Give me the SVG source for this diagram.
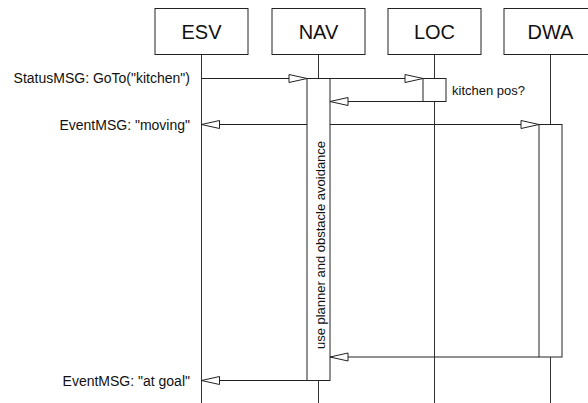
<svg xmlns="http://www.w3.org/2000/svg" width="588" height="403" viewBox="0 0 588 403">
<style>
.box{fill:#fff;stroke:#222;stroke-width:1}
.life{stroke:#333;stroke-width:1;fill:none}
.act{fill:#fff;stroke:#222;stroke-width:1}
.msg{stroke:#222;stroke-width:1;fill:none;marker-end:url(#ah)}
.name{font-family:"Liberation Sans",Arial,sans-serif;font-size:20px;fill:#111;text-anchor:middle}
.lbl{font-family:"Liberation Sans",Arial,sans-serif;font-size:14px;fill:#111}
.sm{font-size:13px}
</style>
<defs>
<marker id="ah" markerUnits="userSpaceOnUse" markerWidth="22" markerHeight="12" refX="19" refY="5" orient="auto" viewBox="0 0 22 12">
<path d="M1,1 L19,5 L1,9 Z" fill="#fff" stroke="#222" stroke-width="1"/>
</marker>
</defs>
<g id="lifelines">
<line class="life" x1="201.5" y1="54.5" x2="201.5" y2="403"/>
<line class="life" x1="318.5" y1="54.5" x2="318.5" y2="403"/>
<line class="life" x1="434.5" y1="54.5" x2="434.5" y2="403"/>
<line class="life" x1="550.5" y1="54.5" x2="550.5" y2="403"/>
</g>
<g id="ESV"><rect class="box" x="155" y="8.5" width="93" height="46"/><text class="name" x="201.5" y="39">ESV</text></g>
<g id="NAV"><rect class="box" x="272" y="8.5" width="93" height="46"/><text class="name" x="318.5" y="39">NAV</text></g>
<g id="LOC"><rect class="box" x="388" y="8.5" width="93" height="46"/><text class="name" x="434.5" y="39">LOC</text></g>
<g id="DWA"><rect class="box" x="504" y="8.5" width="93" height="46"/><text class="name" x="550.5" y="39">DWA</text></g>
<g id="NAV-activation">
<rect class="act" x="307" y="78.5" width="23" height="302"/>
<text class="lbl sm" transform="translate(325,245) rotate(-90)" text-anchor="middle">use planner and obstacle avoidance</text>
</g>
<g id="LOC-activation"><rect class="act" x="423" y="78.5" width="23" height="23"/></g>
<g id="DWA-activation"><rect class="act" x="539" y="124.5" width="23" height="232.5"/></g>
<g id="connectors">
<line class="msg" x1="201.5" y1="78.5" x2="307" y2="78.5"/>
<line class="msg" x1="330" y1="78.5" x2="423" y2="78.5"/>
<line class="msg" x1="423" y1="101.5" x2="330" y2="101.5"/>
<line class="msg" x1="330" y1="124.5" x2="539" y2="124.5"/>
<line class="msg" x1="307" y1="124.5" x2="201.5" y2="124.5"/>
<line class="msg" x1="539" y1="357" x2="330" y2="357"/>
<line class="msg" x1="307" y1="380.5" x2="201.5" y2="380.5"/>
</g>
<g id="labels">
<text class="lbl" x="190" y="83" text-anchor="end">StatusMSG: GoTo("kitchen")</text>
<text class="lbl sm" x="452" y="94.5">kitchen pos?</text>
<text class="lbl" x="190" y="129.5" text-anchor="end">EventMSG: "moving"</text>
<text class="lbl" x="190" y="385.5" text-anchor="end">EventMSG: "at goal"</text>
</g>
</svg>
